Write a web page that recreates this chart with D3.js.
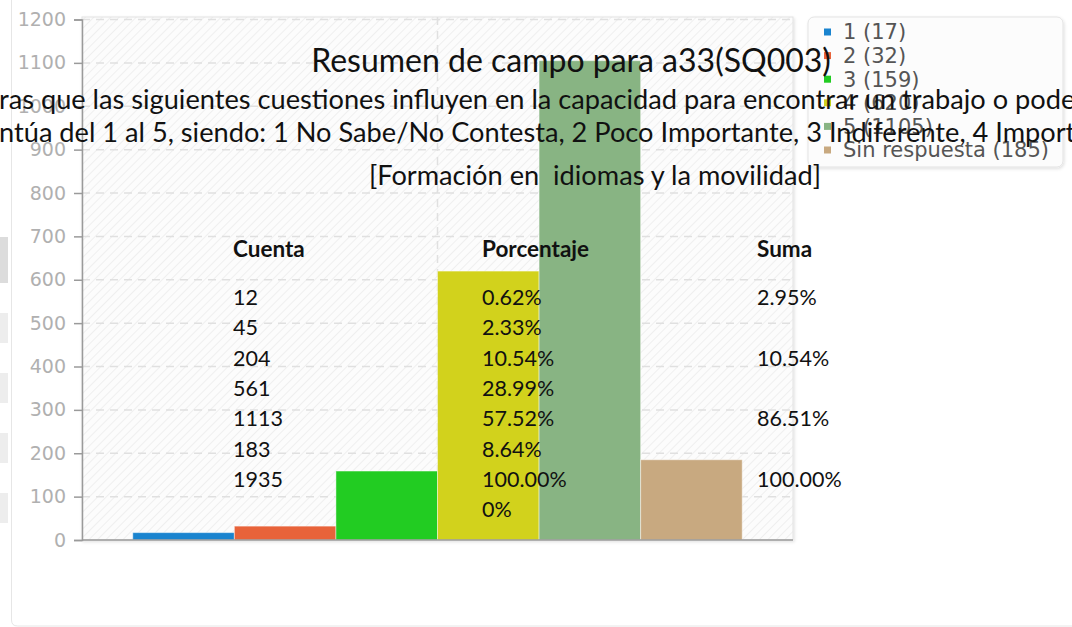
<!DOCTYPE html>
<html>
<head>
<meta charset="utf-8">
<script src="https://cdn.jsdelivr.net/npm/d3@7"></script>
<style>
  html, body { margin: 0; padding: 0; background: #fff; overflow: hidden; }
  svg { display: block; }
</style>
</head>
<body>
<svg id="chart" width="1072" height="627"></svg>
<script>
// Field summary data
const categories = ["1", "2", "3", "4", "5", "Sin respuesta"];
const counts = [17, 32, 159, 620, 1105, 185];
const barColors = ["#1a84cf", "#e8633a", "#22cc22", "#d2d21c", "#88b483", "#c8a980"];
const yTicks = [0, 100, 200, 300, 400, 500, 600, 700, 800, 900, 1000, 1100, 1200];

const titleText = "Resumen de campo para a33(SQ003)";
const questionLines = [
  "ras que las siguientes cuestiones influyen en la capacidad para encontrar un trabajo o poder emprender",
  "ntúa del 1 al 5, siendo: 1 No Sabe/No Contesta, 2 Poco Importante, 3 Indiferente, 4 Importante, 5 Muy Importante",
  "[Formación en  idiomas y la movilidad]"
];

const tableHeaders = ["Cuenta", "Porcentaje", "Suma"];
const tableCuenta = ["12", "45", "204", "561", "1113", "183", "1935"];
const tablePorcentaje = ["0.62%", "2.33%", "10.54%", "28.99%", "57.52%", "8.64%", "100.00%", "0%"];
const tableSuma = ["2.95%", "", "10.54%", "", "86.51%", "", "100.00%"];

const svg = d3.select("#chart");
const defs = svg.append("defs");

// diagonal hatch for the plot background
const hatch = defs.append("pattern")
  .attr("id", "hatch")
  .attr("patternUnits", "userSpaceOnUse")
  .attr("width", 6).attr("height", 6)
  .attr("patternTransform", "rotate(45)");
hatch.append("rect").attr("width", 6).attr("height", 6).attr("fill", "#fcfcfc");
hatch.append("line").attr("x1", 0).attr("y1", 0).attr("x2", 0).attr("y2", 6)
  .attr("stroke", "#efefef").attr("stroke-width", 2);

const shadow = defs.append("filter").attr("id", "shadow")
  .attr("x", "-10%").attr("y", "-10%").attr("width", "130%").attr("height", "130%");
shadow.append("feDropShadow").attr("dx", 1).attr("dy", 1.5).attr("stdDeviation", 1.5)
  .attr("flood-color", "#000").attr("flood-opacity", 0.12);

// page decoration: side tabs and container border
const tabs = [[237, 283, "#dcdcdc"], [313, 343, "#ededed"], [373, 403, "#ededed"], [433, 463, "#ededed"], [493, 523, "#ededed"]];
svg.append("g").selectAll("rect").data(tabs).join("rect")
  .attr("x", 0).attr("y", d => d[0]).attr("width", 8).attr("height", d => d[1] - d[0])
  .attr("fill", d => d[2]);
svg.append("path")
  .attr("d", "M11.5,0 L11.5,620 Q11.5,626 17.5,626 L1080,626")
  .attr("fill", "none").attr("stroke", "#e6e6e6").attr("stroke-width", 1);

// scales
const plot = { left: 82, right: 793, top: 17, bottom: 540 };
const x = d3.scaleBand().domain(categories)
  .range([plot.left, plot.right]).paddingInner(0).paddingOuter(0.5);
const y = d3.scaleLinear().domain([0, 1200]).range([plot.bottom, 19.5]);

// plot background
svg.append("rect")
  .attr("x", plot.left).attr("y", plot.top)
  .attr("width", plot.right - plot.left).attr("height", plot.bottom - plot.top)
  .attr("fill", "url(#hatch)").attr("stroke", "#e2e2e2").attr("stroke-width", 1)
  .attr("filter", "url(#shadow)");

// grid lines
svg.append("g").selectAll("line").data(yTicks.filter(t => t > 0)).join("line")
  .attr("x1", plot.left).attr("x2", plot.right)
  .attr("y1", d => y(d)).attr("y2", d => y(d))
  .attr("stroke", "#e0e0e0").attr("stroke-width", 1.5).attr("stroke-dasharray", "8,6");
svg.append("line")
  .attr("x1", (plot.left + plot.right) / 2).attr("x2", (plot.left + plot.right) / 2)
  .attr("y1", plot.top).attr("y2", plot.bottom)
  .attr("stroke", "#e0e0e0").attr("stroke-width", 1.5).attr("stroke-dasharray", "8,6");

// bars
svg.append("g").selectAll("rect").data(counts).join("rect")
  .attr("x", (d, i) => x(categories[i]))
  .attr("y", d => y(d))
  .attr("width", x.bandwidth())
  .attr("height", d => y(0) - y(d))
  .attr("fill", (d, i) => barColors[i])
  .attr("stroke", "rgba(255,255,255,0.45)").attr("stroke-width", 1);

// axes
const yAxis = svg.append("g")
  .attr("transform", `translate(${plot.left},0)`)
  .call(d3.axisLeft(y).tickValues(yTicks).tickSize(8).tickPadding(8).tickFormat(d3.format("d")));
yAxis.select(".domain").attr("stroke", "#9a9a9a").attr("stroke-width", 1.5);
yAxis.selectAll(".tick line").attr("stroke", "#9a9a9a").attr("stroke-width", 1.5);
yAxis.selectAll(".tick text")
  .attr("fill", "#b0b0b0").style("font-family", "'DejaVu Sans'").style("font-size", "19px");

svg.append("line")
  .attr("x1", plot.left).attr("x2", plot.right)
  .attr("y1", plot.bottom).attr("y2", plot.bottom)
  .attr("stroke", "#9a9a9a").attr("stroke-width", 1.5);

// legend
const legend = svg.append("g");
legend.append("rect")
  .attr("x", 808).attr("y", 17).attr("width", 255).attr("height", 150).attr("rx", 6)
  .attr("fill", "#fcfcfc").attr("stroke", "#e3e3e3").attr("filter", "url(#shadow)");
const items = legend.selectAll("g.item").data(categories).join("g")
  .attr("class", "item")
  .attr("transform", (d, i) => `translate(0,${32 + i * 23.6})`);
items.append("rect")
  .attr("x", 824).attr("y", -3.5).attr("width", 7).attr("height", 7)
  .attr("fill", (d, i) => barColors[i]);
items.append("text")
  .attr("x", 843).attr("dy", "0.35em")
  .attr("fill", "#555").style("font-family", "'DejaVu Sans'").style("font-size", "21px")
  .text((d, i) => `${d} (${counts[i]})`);

// title and question text
const textFont = "Lato, 'Open Sans', sans-serif";
svg.append("text")
  .attr("x", 571).attr("y", 72).attr("text-anchor", "middle")
  .style("font-family", textFont).style("font-size", "32px").attr("fill", "#111")
  .text(titleText);
svg.append("text").attr("x", -1).attr("y", 109)
  .style("font-family", textFont).style("font-size", "27.2px").attr("fill", "#111")
  .text(questionLines[0]);
svg.append("text").attr("x", -1).attr("y", 142)
  .style("font-family", textFont).style("font-size", "27.2px").attr("fill", "#111")
  .text(questionLines[1]);
svg.append("text").attr("x", 595).attr("y", 185).attr("text-anchor", "middle")
  .style("font-family", textFont).style("font-size", "27.2px").style("white-space", "pre").attr("fill", "#111")
  .text(questionLines[2]);

// statistics table
const colX = [233, 482, 757];
const rowY = i => 305 + i * 30.3;
svg.append("g").selectAll("text").data(tableHeaders).join("text")
  .attr("x", (d, i) => colX[i]).attr("y", 257)
  .style("font-family", textFont).style("font-size", "22.5px").style("font-weight", "bold")
  .attr("fill", "#111").text(d => d);
[tableCuenta, tablePorcentaje, tableSuma].forEach((col, c) => {
  svg.append("g").selectAll("text").data(col).join("text")
    .attr("x", colX[c]).attr("y", (d, i) => rowY(i))
    .style("font-family", textFont).style("font-size", "21.5px")
    .attr("fill", "#111").text(d => d);
});
</script>
</body>
</html>
